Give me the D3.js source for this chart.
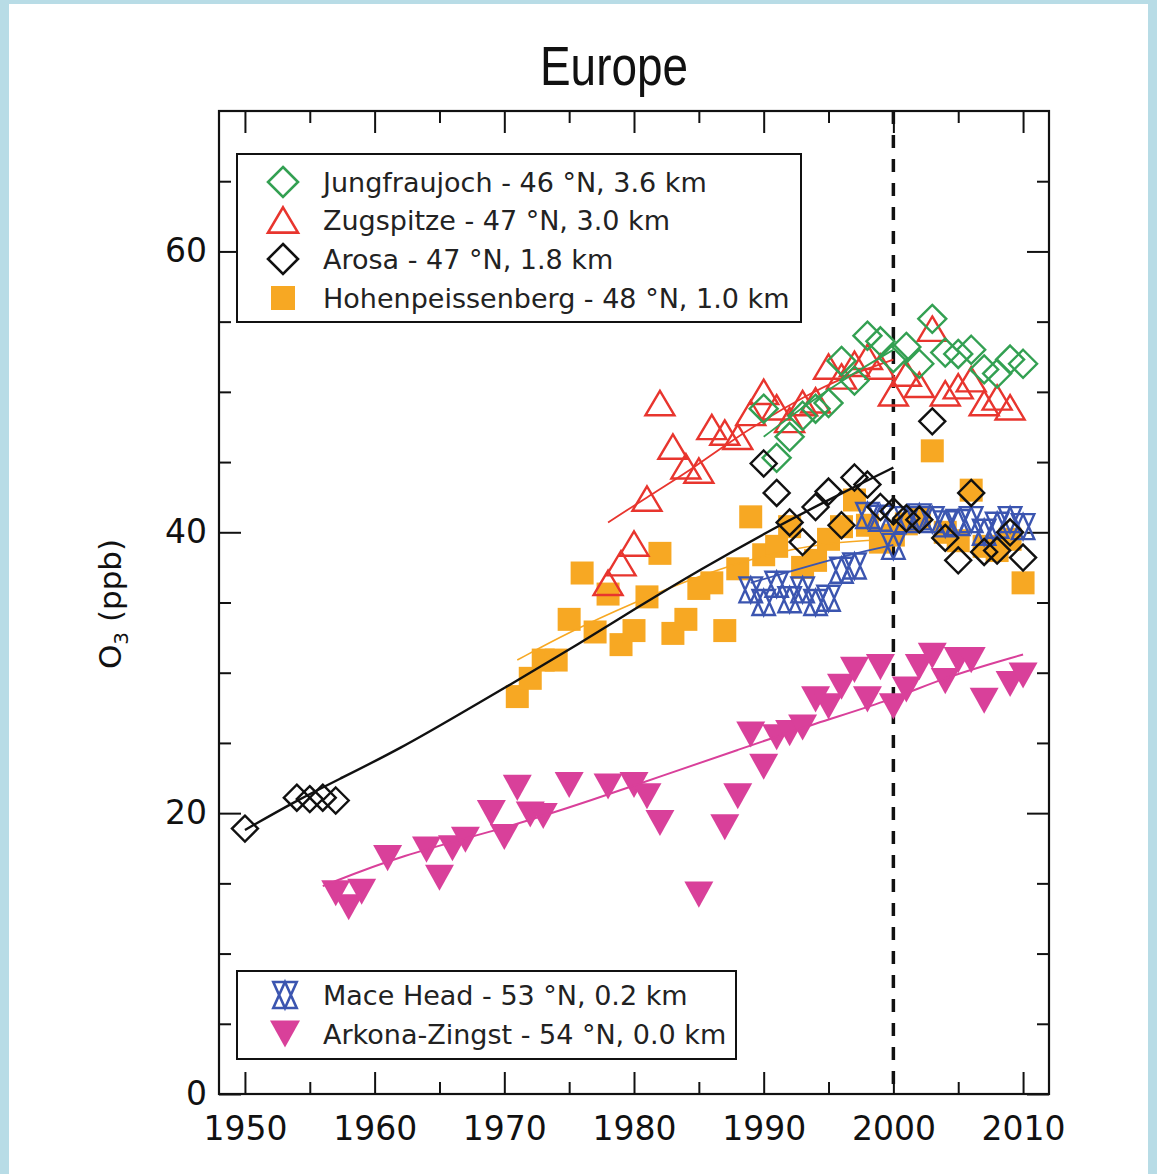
<!DOCTYPE html>
<html><head><meta charset="utf-8">
<script src="https://cdn.jsdelivr.net/npm/d3@7"></script>
<style>html,body{margin:0;padding:0;background:#fff;} svg{display:block;}</style>
</head><body>
<svg id="chart" width="1157" height="1174"></svg>
<script>
// ---------------- data ----------------
const jungYears  = [1990,1991,1992,1993,1994,1995,1996,1997,1998,1999,2000,2001,2002,2003,2004,2005,2006,2007,2008,2009,2010];
const jungValues = [48.8,45.3,46.8,48.3,48.8,49.2,52.2,50.8,54.0,53.6,52.4,53.2,52.0,55.2,52.8,52.7,53.0,51.6,51.3,52.3,52.0];

const zugYears  = [1978,1979,1980,1981,1982,1983,1984,1985,1986,1987,1988,1989,1990,1991,1992,1993,1994,1995,1996,1997,1998,1999,2000,2001,2002,2003,2004,2005,2006,2007,2008,2009];
const zugValues = [36.4,37.8,39.2,42.4,49.2,46.1,44.7,44.4,47.5,47.1,46.8,48.5,50.0,48.9,48.0,49.2,49.4,51.8,51.1,52.0,52.5,51.8,49.9,51.3,50.5,54.5,49.9,50.4,50.9,49.2,49.6,48.9];

const arosaYears  = [1950,1954,1955,1956,1957,1990,1991,1992,1993,1994,1995,1996,1997,1998,1999,2000,2001,2002,2003,2004,2005,2006,2007,2008,2009,2010];
const arosaValues = [18.9,21.1,21.0,21.1,20.9,44.9,42.8,40.7,39.3,41.8,42.9,40.5,43.9,43.4,41.8,41.5,41.0,40.9,47.9,39.6,38.0,42.8,38.6,38.7,40.0,38.2];

const hohenYears  = [1971,1972,1973,1974,1975,1976,1977,1978,1979,1980,1981,1982,1983,1984,1985,1986,1987,1988,1989,1990,1991,1992,1993,1994,1995,1996,1997,1998,1999,2000,2001,2002,2003,2004,2005,2006,2007,2008,2009,2010];
const hohenValues = [28.3,29.6,30.9,30.9,33.8,37.1,32.9,35.6,32.0,33.0,35.4,38.5,32.8,33.8,36.0,36.4,33.0,37.4,41.1,38.4,39.0,40.4,37.5,38.0,39.5,40.4,42.3,40.5,39.3,39.8,40.6,41.0,45.8,40.0,39.4,43.0,39.0,38.7,39.5,36.4];

const maceYears  = [1989,1990,1991,1992,1993,1994,1995,1996,1997,1998,1999,2000,2001,2002,2003,2004,2005,2006,2007,2008,2009,2010];
const maceValues = [35.9,35.0,36.3,35.2,35.9,35.0,35.3,37.3,37.6,41.2,41.0,39.0,40.9,41.1,40.9,40.6,40.7,40.9,40.0,40.5,40.9,40.4];

const arkYears  = [1957,1958,1959,1961,1964,1965,1966,1967,1969,1970,1971,1972,1973,1975,1978,1980,1981,1982,1985,1987,1988,1989,1990,1991,1992,1993,1994,1995,1996,1997,1998,1999,2000,2001,2002,2003,2004,2005,2006,2007,2009,2010];
const arkValues = [14.3,13.3,14.4,16.8,17.4,15.4,17.5,18.1,20.0,18.3,21.8,19.9,19.8,22.0,21.9,22.0,21.2,19.3,14.2,19.0,21.2,25.6,23.3,25.4,25.7,26.1,28.1,27.6,29.0,30.2,28.1,30.4,27.6,28.8,30.4,31.2,29.4,30.9,30.9,28.0,29.2,29.8];

// fitted curves
const arosaFitYears  = [1950,1954,1957,1962,1967,1970,1976,1980,1985,1991,1995,1998,2000];
const arosaFitValues = [18.8,20.9,22.3,24.6,27.3,28.9,32.2,34.5,37.3,40.4,42.3,43.7,44.6];
const zugFitYears  = [1978,1981,1984,1987,1990,1993,1996,2000];
const zugFitValues = [40.7,42.5,44.2,46.2,48.0,49.6,51.0,52.3];
const jungFitYears  = [1990,1993,1996,2000];
const jungFitValues = [46.8,48.9,50.8,53.0];
const hohenFitYears  = [1971,1975,1980,1985,1990,1995,2000];
const hohenFitValues = [30.9,32.9,35.0,36.9,38.4,39.3,39.5];
const maceFitYears  = [1989,1992,1995,1998,2000];
const maceFitValues = [36.4,37.2,38.0,38.7,39.1];
const arkFitYears  = [1956,1962,1970,1977,1982,1988,1994,2000,2004,2010];
const arkFitValues = [14.8,17.0,18.9,21.0,22.6,24.5,26.4,28.1,29.7,31.3];

const xMajorTicks = [1950,1960,1970,1980,1990,2000,2010];
const xMinorTicks = [1955,1965,1975,1985,1995,2005];
const yMajorTicks = [0,20,40,60];
const yMinorTicks = [5,10,15,25,30,35,45,50,55,65];

const legendTop = ["Jungfraujoch - 46 °N, 3.6 km","Zugspitze - 47 °N, 3.0 km","Arosa - 47 °N, 1.8 km","Hohenpeissenberg - 48 °N, 1.0 km"];
const legendBottom = ["Mace Head - 53 °N, 0.2 km","Arkona-Zingst - 54 °N, 0.0 km"];

// ---------------- drawing ----------------
const C = {green:"#33a052", red:"#e8352e", black:"#111111", orange:"#f7a823", blue:"#3b55b0", magenta:"#d9409a"};
const FONT = "'DejaVu Sans', Verdana, sans-serif";

const svg = d3.select("#chart");
svg.append("rect").attr("width",1157).attr("height",1174).attr("fill","#b8dce6");
svg.append("rect").attr("x",9).attr("y",4).attr("width",1139).attr("height",1170).attr("fill","#ffffff");

const x = d3.scaleLinear().domain([1948,2012]).range([219,1049]);
const y = d3.scaleLinear().domain([0,70]).range([1094,111]);

// title
svg.append("text").attr("x",614).attr("y",85).attr("text-anchor","middle")
  .attr("font-family","'Liberation Sans Narrow','Liberation Sans',Arial,sans-serif").attr("font-size",56)
  .attr("textLength",148).attr("lengthAdjust","spacingAndGlyphs").attr("fill","#111").text("Europe");

// axes
function styleAxis(g){ g.select(".domain").remove(); g.selectAll("line").attr("stroke","#111").attr("stroke-width",2); }
const gB = svg.append("g").attr("transform",`translate(0,${y(0)})`)
  .call(d3.axisBottom(x).tickValues(xMajorTicks).tickSize(-22).tickPadding(23).tickFormat(d3.format("d")));
styleAxis(gB);
gB.selectAll("text").attr("font-family",FONT).attr("font-size",33).attr("fill","#111");
const gBm = svg.append("g").attr("transform",`translate(0,${y(0)})`)
  .call(d3.axisBottom(x).tickValues(xMinorTicks).tickSize(-12).tickFormat(""));
styleAxis(gBm);
const gT = svg.append("g").attr("transform",`translate(0,${y(70)})`)
  .call(d3.axisTop(x).tickValues(xMajorTicks).tickSize(-22).tickFormat(""));
styleAxis(gT);
const gTm = svg.append("g").attr("transform",`translate(0,${y(70)})`)
  .call(d3.axisTop(x).tickValues(xMinorTicks).tickSize(-12).tickFormat(""));
styleAxis(gTm);
const gL = svg.append("g").attr("transform",`translate(${x(1948)},0)`)
  .call(d3.axisLeft(y).tickValues(yMajorTicks).tickSize(-22).tickPadding(12));
styleAxis(gL);
gL.selectAll("text").attr("font-family",FONT).attr("font-size",33).attr("fill","#111");
const gLm = svg.append("g").attr("transform",`translate(${x(1948)},0)`)
  .call(d3.axisLeft(y).tickValues(yMinorTicks).tickSize(-12).tickFormat(""));
styleAxis(gLm);
const gR = svg.append("g").attr("transform",`translate(${x(2012)},0)`)
  .call(d3.axisRight(y).tickValues(yMajorTicks).tickSize(-22).tickFormat(""));
styleAxis(gR);
const gRm = svg.append("g").attr("transform",`translate(${x(2012)},0)`)
  .call(d3.axisRight(y).tickValues(yMinorTicks).tickSize(-12).tickFormat(""));
styleAxis(gRm);

svg.append("rect").attr("x",x(1948)).attr("y",y(70)).attr("width",x(2012)-x(1948)).attr("height",y(0)-y(70))
  .attr("fill","none").attr("stroke","#111").attr("stroke-width",2.2);

// y label
const yl = svg.append("text").attr("transform",`translate(121,604) rotate(-90)`).attr("text-anchor","middle")
  .attr("font-family",FONT).attr("font-size",31).attr("fill","#111");
yl.append("tspan").text("O");
yl.append("tspan").attr("font-size",20).attr("dy",7).text("3");
yl.append("tspan").attr("dy",-7).text(" (ppb)");

// dashed 2000 line
svg.append("line").attr("x1",x(2000)).attr("x2",x(2000)).attr("y1",y(70)).attr("y2",y(0))
  .attr("stroke","#111").attr("stroke-width",3.5).attr("stroke-dasharray","13,11");

// marker shapes
const shapes = {
  diamond: s => `M0,${-s/2}L${s/2},0L0,${s/2}L${-s/2},0Z`,
  triUp: s => `M0,${-s*0.42}L${s/2},${s*0.42}L${-s/2},${s*0.42}Z`,
  triDown: s => `M0,${s*0.45}L${s/2},${-s*0.45}L${-s/2},${-s*0.45}Z`,
  square: s => `M${-s/2},${-s/2}H${s/2}V${s/2}H${-s/2}Z`,
  hourglass: s => `M0,${-s*0.5}L${s*0.45},${s*0.5}L${-s*0.45},${s*0.5}Z M0,${s*0.5}L${s*0.45},${-s*0.5}L${-s*0.45},${-s*0.5}Z`
};
const line = d3.line().x(d=>x(d[0])).y(d=>y(d[1])).curve(d3.curveBasis);
function fit(years, vals, color, w){
  svg.append("path").datum(years.map((yr,i)=>[yr,vals[i]])).attr("d",line)
    .attr("fill","none").attr("stroke",color).attr("stroke-width",w);
}
function points(years, vals, shape, size, color, filled, sw){
  svg.append("g").selectAll("path").data(years.map((yr,i)=>[yr,vals[i]])).join("path")
    .attr("transform",d=>`translate(${x(d[0])},${y(d[1])})`)
    .attr("d",shapes[shape](size))
    .attr("fill",filled?color:"none").attr("stroke",filled?"none":color).attr("stroke-width",sw||0)
    .attr("stroke-linejoin","miter");
}

// series
points(hohenYears, hohenValues, "square", 23, C.orange, true);
points(arkYears, arkValues, "triDown", 29, C.magenta, true);
fit(hohenFitYears, hohenFitValues, C.orange, 1.6);
fit(arkFitYears, arkFitValues, C.magenta, 2);
points(maceYears, maceValues, "hourglass", 25, C.blue, false, 2.4);
fit(maceFitYears, maceFitValues, C.blue, 1.8);
points(zugYears, zugValues, "triUp", 29, C.red, false, 2.4);
fit(zugFitYears, zugFitValues, C.red, 1.8);
points(jungYears, jungValues, "diamond", 28, C.green, false, 2.4);
fit(jungFitYears, jungFitValues, C.green, 1.8);
points(arosaYears, arosaValues, "diamond", 26, C.black, false, 2.4);
fit(arosaFitYears, arosaFitValues, C.black, 2.4);

// legends
function legendBox(x0,y0,x1,y1){
  svg.append("rect").attr("x",x0).attr("y",y0).attr("width",x1-x0).attr("height",y1-y0)
    .attr("fill","#fff").attr("stroke","#111").attr("stroke-width",2);
}
legendBox(237,154,801,322);
const topSyms = [["diamond",30,C.green,false],["triUp",30,C.red,false],["diamond",30,C.black,false],["square",24,C.orange,true]];
const topBase = [192,230,269,308];
legendTop.forEach((t,i)=>{
  const [sh,sz,col,fl] = topSyms[i];
  svg.append("path").attr("transform",`translate(283,${topBase[i]-10})`).attr("d",shapes[sh](sz))
    .attr("fill",fl?col:"none").attr("stroke",fl?"none":col).attr("stroke-width",2.6);
  svg.append("text").attr("x",323).attr("y",topBase[i]).attr("font-family",FONT).attr("font-size",27)
    .attr("fill","#222").text(t);
});
legendBox(237,971,736,1059);
const botSyms = [["hourglass",26,C.blue,false],["triDown",30,C.magenta,true]];
const botBase = [1005,1044];
legendBottom.forEach((t,i)=>{
  const [sh,sz,col,fl] = botSyms[i];
  svg.append("path").attr("transform",`translate(285,${botBase[i]-10})`).attr("d",shapes[sh](sz))
    .attr("fill",fl?col:"none").attr("stroke",fl?"none":col).attr("stroke-width",2.6);
  svg.append("text").attr("x",323).attr("y",botBase[i]).attr("font-family",FONT).attr("font-size",27)
    .attr("fill","#222").text(t);
});
</script>
</body></html>
